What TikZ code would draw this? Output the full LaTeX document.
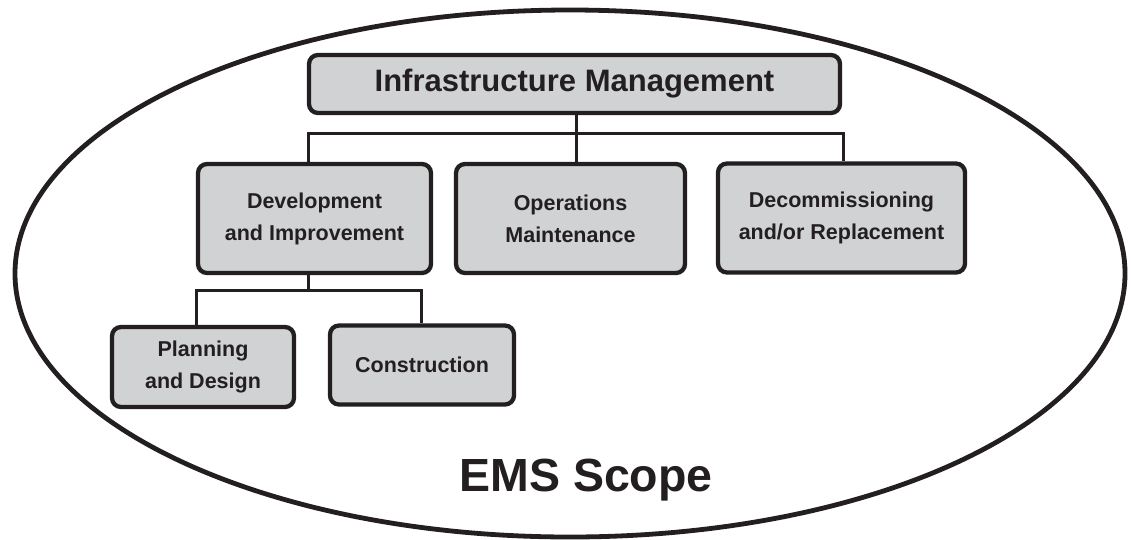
\documentclass[tikz,border=0pt]{standalone}
\usepackage{fontspec}
\setmainfont{Liberation Sans}
\definecolor{boxfill}{HTML}{D1D2D4}
\definecolor{ink}{HTML}{231F20}
\begin{document}
\begin{tikzpicture}[x=1pt,y=-1pt,
  box/.style={draw=ink, fill=boxfill, line width=4.3pt, rounded corners=9pt,
    inner sep=0pt, align=center, text=ink,
    font=\fontsize{21.5}{32}\selectfont\bfseries},
  conn/.style={draw=ink, line width=3pt},
  scopeline/.style={draw=ink, line width=4.8pt}]
\useasboundingbox (0,0) rectangle (1131,539);
\draw[scopeline] (570,273.5) ellipse [x radius=555, y radius=263.5];

\node[box, minimum width=531pt, minimum height=58pt,
  font=\fontsize{31}{36}\selectfont\bfseries] (im) at (574.5,84) {Infrastructure Management};
\node[box, minimum width=233pt, minimum height=109pt] (dev) at (314.5,218.5) {Development\\and Improvement};
\node[box, minimum width=229pt, minimum height=109pt] (ops) at (570.5,218.5) {Operations\\Maintenance};
\node[box, minimum width=247pt, minimum height=109pt] (dec) at (841.5,218) {Decommissioning\\and/or Replacement};
\node[box, minimum width=182pt, minimum height=80pt] (pd) at (203,367) {Planning\\and Design};
\node[box, minimum width=184pt, minimum height=79pt] (con) at (422,365) {Construction};

\node[text=ink, font=\fontsize{46.5}{50}\selectfont\bfseries] (ems) at (586,480) {EMS Scope};

\coordinate (bus) at (576,133);
\coordinate (bus2) at (308,290);
\draw[conn] ([xshift=1.5pt]im.south) -- ([xshift=1.5pt]im.south |- ops.north);
\draw[conn] ([xshift=-6.5pt]dev.north) |- ([xshift=1.5pt]dec.north |- bus) -- ([xshift=1.5pt]dec.north);
\draw[conn] ([xshift=-6.5pt]dev.south) -- ([xshift=-6.5pt]dev.south |- bus2);
\draw[conn] ([xshift=-7pt]pd.north) |- ([xshift=-1pt]con.north |- bus2) -- ([xshift=-1pt]con.north);
\end{tikzpicture}
\end{document}
